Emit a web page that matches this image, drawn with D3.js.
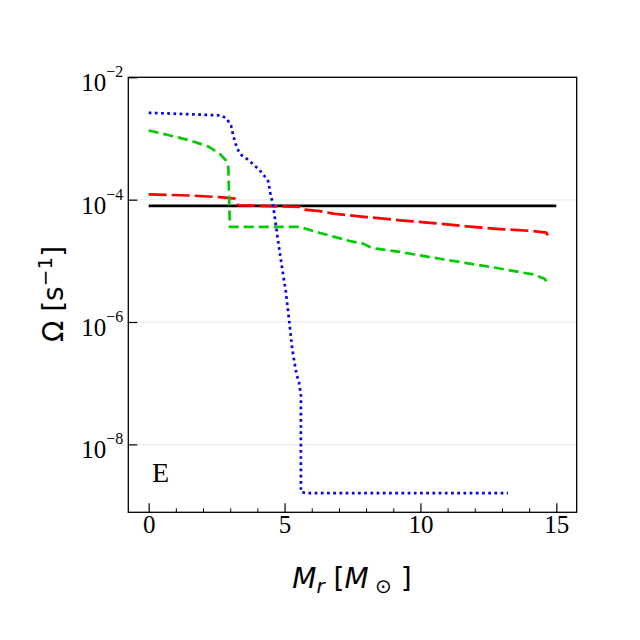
<!DOCTYPE html>
<html>
<head>
<meta charset="utf-8">
<script src="https://cdn.jsdelivr.net/npm/d3@7"></script>
<style>
html,body{margin:0;padding:0;background:#fff;}
svg{display:block;}
</style>
</head>
<body>
<svg id="chart" width="640" height="640"></svg>
<script>
// ---- data ----
const xTicks = [0, 5, 10, 15];
const xMinorTicks = [1, 2, 3, 4, 6, 7, 8, 9, 11, 12, 13, 14];
const yTickExps = [-8, -6, -4, -2];

const blackX = [0, 15];
const blackY = [7.9e-5, 7.9e-5];

const redX = [0, 1.52, 2.62, 3.17, 3.29, 5.56, 5.68, 6.3, 6.79, 8.01, 9.24, 10.46, 11.69, 12.92, 14.14, 14.63, 14.69];
const redY = [1.22e-4, 1.17e-4, 1.1e-4, 1.04e-4, 8.1e-5, 7.6e-5, 6.9e-5, 6.5e-5, 5.9e-5, 5.2e-5, 4.6e-5, 4.15e-5, 3.66e-5, 3.31e-5, 3.07e-5, 2.89e-5, 2.61e-5];

const greenX = [0, 0.78, 1.52, 2.19, 2.62, 2.84, 2.93, 2.99, 5.56, 6.30, 7.40, 7.89, 8.14, 8.38, 9.24, 10.46, 11.69, 12.92, 14.14, 14.57, 14.69, 14.70];
const greenY = [1.35e-3, 1.12e-3, 9.3e-4, 7.4e-4, 5.6e-4, 4.4e-4, 3.4e-4, 3.6e-5, 3.6e-5, 2.85e-5, 2.11e-5, 1.91e-5, 1.68e-5, 1.58e-5, 1.40e-5, 1.13e-5, 9.2e-6, 7.5e-6, 6.0e-6, 5.1e-6, 4.25e-6, 4.0e-6];

const blueX = [0, 2.68, 2.87, 3.03, 3.11, 3.20, 3.26, 3.42, 3.64, 3.85, 4.06, 4.24, 4.40, 4.49, 4.56, 4.64, 4.75, 4.83, 4.95, 5.04, 5.10, 5.16, 5.28, 5.35, 5.44, 5.53, 5.60, 5.60, 5.78, 13.22];
const blueY = [2.63e-3, 2.38e-3, 2.1e-3, 1.63e-3, 1.12e-3, 8.2e-4, 6.8e-4, 5.3e-4, 4.55e-4, 3.77e-4, 3.1e-4, 2.5e-4, 1.99e-4, 1.17e-4, 9.1e-5, 5.2e-5, 2.3e-5, 1.31e-5, 5.8e-6, 3.3e-6, 1.95e-6, 1.14e-6, 3.7e-7, 2.38e-7, 1.4e-7, 1.05e-7, 6.4e-8, 1.68e-9, 1.6e-9, 1.6e-9];

const panelLabel = "E";

// ---- layout ----
const L = 128.3, R = 576.7, T = 77.3, B = 512.3;
const svg = d3.select("#chart");

const x = d3.scaleLinear().domain([-0.75, 15.75]).range([L, R]);
const y = d3.scaleLog().domain([Math.pow(10, -9.11), 1e-2]).range([B, T]);

// gridlines
svg.append("g").selectAll("line").data(yTickExps).join("line")
  .attr("x1", L).attr("x2", R)
  .attr("y1", d => y(Math.pow(10, d))).attr("y2", d => y(Math.pow(10, d)))
  .attr("stroke", "#f0f0f0").attr("stroke-width", 1.5);

// series
const line = d3.line().x(d => x(d[0])).y(d => y(d[1]));
const plot = svg.append("g");
function series(xs, ys, color, dash) {
  const pts = xs.map((v, i) => [v, ys[i]]);
  plot.append("path").datum(pts).attr("d", line)
    .attr("fill", "none").attr("stroke", color).attr("stroke-width", 2.7)
    .attr("stroke-dasharray", dash).attr("stroke-linejoin", "round");
}
series(blackX, blackY, "#000000", null);
series(redX, redY, "#ff0000", "18,5");
series(greenX, greenY, "#00cc00", "10,5");
series(blueX, blueY, "#0000ff", "2.7,3.5");

// axes: x ticks (inward)
const xAxis = d3.axisBottom(x).tickValues(xTicks).tickSizeInner(-9).tickSizeOuter(0).tickFormat(d3.format("d"));
const gx = svg.append("g").attr("transform", `translate(0,${B})`).call(xAxis);
gx.select(".domain").remove();
gx.selectAll(".tick line").attr("stroke", "#000").attr("stroke-width", 1.2);
gx.selectAll(".tick text").attr("font-family", "'Liberation Serif', serif").attr("font-size", 25)
  .attr("fill", "#000").attr("y", 0).attr("dy", "21px");
const xMinor = d3.axisBottom(x).tickValues(xMinorTicks).tickSizeInner(-4).tickSizeOuter(0).tickFormat("");
const gxm = svg.append("g").attr("transform", `translate(0,${B})`).call(xMinor);
gxm.select(".domain").remove();
gxm.selectAll(".tick line").attr("stroke", "#000").attr("stroke-width", 1);

// y ticks (inward) with 10^n labels
const yAxis = d3.axisLeft(y).tickValues(yTickExps.map(e => Math.pow(10, e))).tickSizeInner(-9).tickSizeOuter(0).tickFormat("");
const gy = svg.append("g").attr("transform", `translate(${L},0)`).call(yAxis);
gy.select(".domain").remove();
gy.selectAll(".tick line").attr("stroke", "#000").attr("stroke-width", 1.2);
gy.selectAll(".tick").each(function(d) {
  const e = Math.round(Math.log10(d));
  const t = d3.select(this).append("text")
    .attr("x", -5).attr("y", 13.4)
    .attr("text-anchor", "end")
    .attr("font-family", "'Liberation Serif', serif").attr("font-size", 25).attr("fill", "#000");
  t.append("tspan").text("10");
  t.append("tspan").attr("dy", -14).attr("font-size", 16).text("\u2212" + Math.abs(e));
});

// frame
svg.append("rect").attr("x", L).attr("y", T).attr("width", R - L).attr("height", B - T)
  .attr("fill", "none").attr("stroke", "#000").attr("stroke-width", 1.3);

// panel label
svg.append("text").attr("x", 152).attr("y", 481.5)
  .attr("font-family", "'Liberation Serif', serif").attr("font-size", 28).attr("fill", "#000")
  .text(panelLabel);

// x axis label
const xl = svg.append("text").attr("x", 352).attr("y", 588).attr("text-anchor", "middle")
  .attr("font-family", "'DejaVu Sans', sans-serif").attr("font-size", 28).attr("fill", "#000");
xl.append("tspan").attr("font-style", "italic").text("M");
xl.append("tspan").attr("font-style", "italic").attr("font-size", 20).attr("dy", 5).text("r");
xl.append("tspan").attr("dy", -5).text(" [");
xl.append("tspan").attr("font-style", "italic").text("M");
xl.append("tspan").attr("font-size", 20).attr("dy", 5).text(" \u2299");
xl.append("tspan").attr("dy", -5).text(" ]");

// y axis label
const yl = svg.append("text").attr("transform", "translate(63,294) rotate(-90)").attr("text-anchor", "middle")
  .attr("font-family", "'DejaVu Sans', sans-serif").attr("font-size", 28).attr("fill", "#000");
yl.append("tspan").text("\u03A9 [s");
yl.append("tspan").attr("font-size", 20).attr("dy", -11).text("\u22121");
yl.append("tspan").attr("dy", 11).text("]");
</script>
</body>
</html>
